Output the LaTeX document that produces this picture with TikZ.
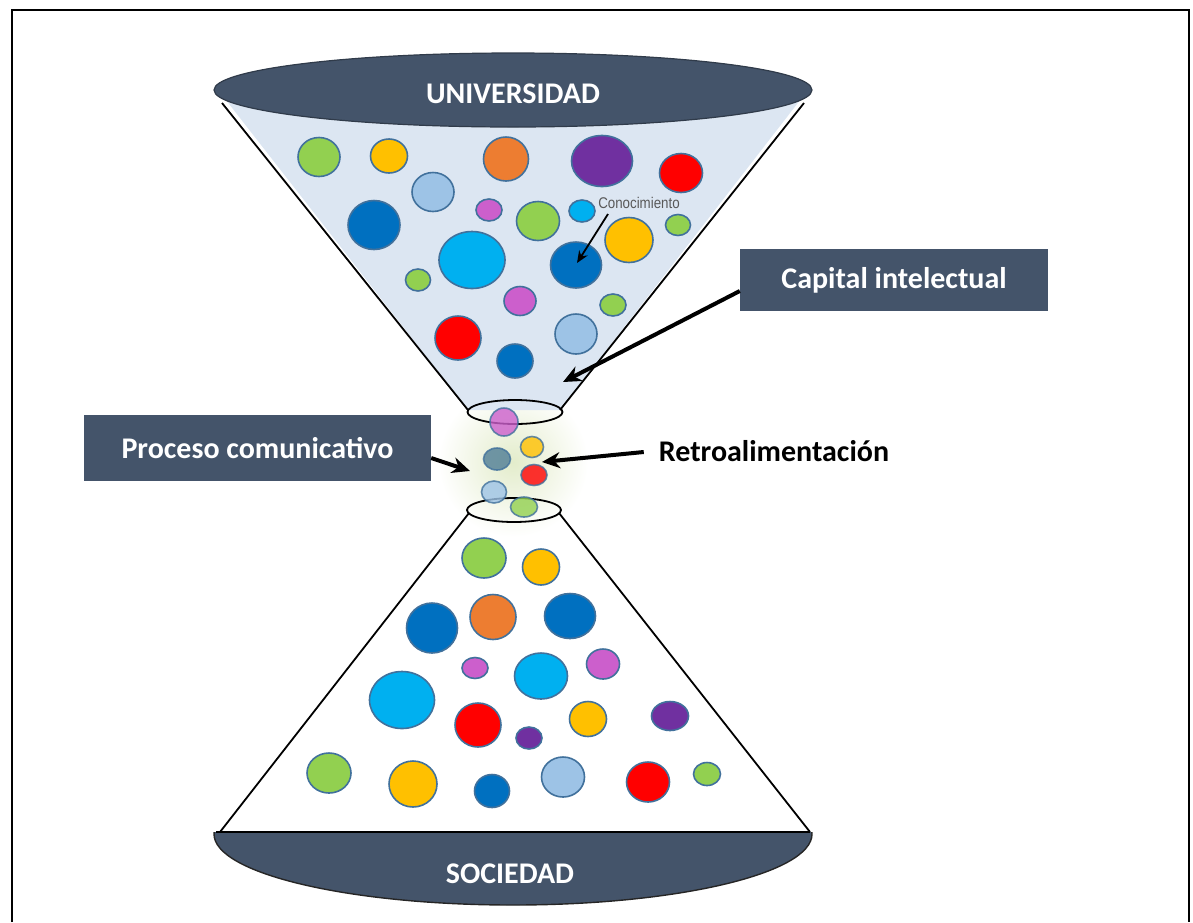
\documentclass[tikz,border=0pt]{standalone}
\usepackage{fontspec}
\setmainfont{Carlito}
\newfontfamily\labelfont{Liberation Sans}
\usetikzlibrary{arrows.meta,shapes.geometric}
\definecolor{slate}{HTML}{44546A}
\definecolor{conefill}{HTML}{DCE6F2}
\definecolor{ballline}{HTML}{41719C}
\definecolor{cgreen}{HTML}{92D050}
\definecolor{cyellow}{HTML}{FFC000}
\definecolor{corange}{HTML}{ED7D31}
\definecolor{cpurple}{HTML}{7030A0}
\definecolor{cred}{HTML}{FF0000}
\definecolor{clblue}{HTML}{9DC3E6}
\definecolor{cdblue}{HTML}{0070C0}
\definecolor{cmag}{HTML}{CC5FCC}
\definecolor{ccyan}{HTML}{00B0F0}
\definecolor{cteal}{HTML}{4F7D95}
\definecolor{glow}{HTML}{E3ECCB}
\definecolor{textgray}{HTML}{595959}
\begin{document}
\begin{tikzpicture}[x=1pt,y=-1pt,
  ball/.style={ellipse,draw=ballline,line width=1.6pt,inner sep=0pt},
  midball/.style={ball,opacity=0.8},
  darkbox/.style={rectangle,fill=slate,text=white,font=\fontsize{30}{34}\selectfont\bfseries,inner sep=0pt},
  arr/.style={line width=4pt,-{Stealth[length=18pt,width=16pt]}},
  thinarr/.style={line width=1.8pt,-{Stealth[length=12pt,width=10pt]}},
  conel/.style={line width=1.8pt}]
\useasboundingbox (0,0) rectangle (1193,922);
% frame
\draw[line width=2pt] (12,922) -- (12,10) -- (1189,10) -- (1189,922);

% glow behind the neck
\shade[inner color=glow,outer color=white] (513,462) circle (75pt);

% ---------- top cone ----------
\fill[conefill] (222,95) -- (804,95) -- (560,410) -- (468,410) -- cycle;
\draw[conel] (222,103) -- (468,410);
\draw[conel] (804,103) -- (560,410);
\node[ellipse,fill=slate,draw=slate!70!black,line width=1.2pt,minimum width=598pt,minimum height=74pt,inner sep=0pt] (univ) at (513,90) {};
\node[text=white,font=\fontsize{30}{34}\selectfont\bfseries] (univtext) at (513,94) {UNIVERSIDAD};

% top balls
\node[ball,fill=cgreen,minimum width=42pt,minimum height=39pt] (t1) at (319,157) {};
\node[ball,fill=cyellow,minimum width=37pt,minimum height=34pt] (t2) at (389,156) {};
\node[ball,fill=corange,minimum width=45pt,minimum height=44pt] (t3) at (506,159) {};
\node[ball,fill=cpurple,minimum width=61pt,minimum height=51pt] (t4) at (602,161) {};
\node[ball,fill=cred,minimum width=43pt,minimum height=39pt] (t5) at (681,173) {};
\node[ball,fill=clblue,minimum width=42pt,minimum height=39pt] (t6) at (433,192) {};
\node[ball,fill=cdblue,minimum width=52pt,minimum height=49pt] (t7) at (374,225) {};
\node[ball,fill=cmag,minimum width=26pt,minimum height=22pt] (t8) at (489,210) {};
\node[ball,fill=cgreen,minimum width=43pt,minimum height=39pt] (t9) at (538,221) {};
\node[ball,fill=ccyan,minimum width=26pt,minimum height=22pt] (t10) at (582,211) {};
\node[ball,fill=cyellow,minimum width=48pt,minimum height=45pt] (t11) at (629,240) {};
\node[ball,fill=cgreen,minimum width=25pt,minimum height=21pt] (t12) at (678,225) {};
\node[ball,fill=ccyan,minimum width=66pt,minimum height=57pt] (t13) at (472,260) {};
\node[ball,fill=cdblue,minimum width=51pt,minimum height=46pt] (t14) at (576,265) {};
\node[ball,fill=cgreen,minimum width=25pt,minimum height=22pt] (t15) at (418,280) {};
\node[ball,fill=cmag,minimum width=32pt,minimum height=29pt] (t16) at (520,301) {};
\node[ball,fill=cgreen,minimum width=26pt,minimum height=22pt] (t17) at (613,305) {};
\node[ball,fill=cred,minimum width=46pt,minimum height=44pt] (t18) at (458,338) {};
\node[ball,fill=clblue,minimum width=42pt,minimum height=40pt] (t19) at (576,334) {};
\node[ball,fill=cdblue,minimum width=36pt,minimum height=34pt] (t20) at (515,361) {};

% Conocimiento
\node[text=textgray,font=\labelfont\fontsize{15.5}{17}\selectfont,inner sep=0pt] (con) at (639,203) {\scalebox{0.86}[1]{Conocimiento}};
\draw[thinarr] ([xshift=-31pt,yshift=-11pt]con.center) -- ([xshift=1pt,yshift=2pt]t14.center);

% ---------- middle ----------
\node[ellipse,draw,line width=1.8pt,minimum width=95pt,minimum height=24pt,inner sep=0pt] (neck1) at (515,412) {};
\node[ellipse,draw,line width=1.8pt,minimum width=94pt,minimum height=24pt,inner sep=0pt] (neck2) at (514,510) {};
\node[midball,fill=cmag,minimum width=28pt,minimum height=28pt] (m1) at (504,422) {};
\node[midball,fill=cyellow,minimum width=23pt,minimum height=21pt] (m2) at (532,447) {};
\node[midball,fill=cteal,minimum width=27pt,minimum height=22pt] (m3) at (497,459) {};
\node[midball,fill=cred,minimum width=26pt,minimum height=21pt] (m4) at (534,475) {};
\node[midball,fill=clblue,minimum width=25pt,minimum height=22pt] (m5) at (494,492) {};
\node[midball,fill=cgreen,minimum width=27pt,minimum height=20pt] (m6) at (524,507) {};

% ---------- bottom cone ----------
\draw[conel] (469,513) -- (220,832);
\draw[conel] (559,513) -- (810,832);
\begin{scope}
  \clip (150,832) rectangle (880,920);
  \fill[slate] (513,834) ellipse (299pt and 71pt);
  \draw[line width=1.4pt,black!85] (513,834) ellipse (299pt and 71pt);
\end{scope}
\draw[line width=2pt] (216,832) -- (810,832);
\node[text=white,font=\fontsize{30}{34}\selectfont\bfseries] (soc) at (510,874) {SOCIEDAD};

% bottom balls
\node[ball,fill=cgreen,minimum width=44pt,minimum height=40pt] (b1) at (484,558) {};
\node[ball,fill=cyellow,minimum width=37pt,minimum height=36pt] (b2) at (541,567) {};
\node[ball,fill=cdblue,minimum width=51pt,minimum height=50pt] (b3) at (432,628) {};
\node[ball,fill=corange,minimum width=46pt,minimum height=45pt] (b4) at (493,617) {};
\node[ball,fill=cdblue,minimum width=51pt,minimum height=45pt] (b5) at (570,616) {};
\node[ball,fill=cmag,minimum width=26pt,minimum height=21pt] (b6) at (475,668) {};
\node[ball,fill=ccyan,minimum width=53pt,minimum height=46pt] (b7) at (541,676) {};
\node[ball,fill=cmag,minimum width=33pt,minimum height=30pt] (b8) at (603,664) {};
\node[ball,fill=ccyan,minimum width=65pt,minimum height=57pt] (b9) at (402,700) {};
\node[ball,fill=cred,minimum width=46pt,minimum height=44pt] (b10) at (478,725) {};
\node[ball,fill=cyellow,minimum width=37pt,minimum height=35pt] (b11) at (588,719) {};
\node[ball,fill=cpurple,minimum width=26pt,minimum height=22pt] (b12) at (529,738) {};
\node[ball,fill=cpurple,minimum width=37pt,minimum height=29pt] (b13) at (670,716) {};
\node[ball,fill=cgreen,minimum width=44pt,minimum height=40pt] (b14) at (329,773) {};
\node[ball,fill=cyellow,minimum width=48pt,minimum height=46pt] (b15) at (413,784) {};
\node[ball,fill=cdblue,minimum width=35pt,minimum height=33pt] (b16) at (492,791) {};
\node[ball,fill=clblue,minimum width=43pt,minimum height=40pt] (b17) at (563,777) {};
\node[ball,fill=cred,minimum width=43pt,minimum height=40pt] (b18) at (648,782) {};
\node[ball,fill=cgreen,minimum width=27pt,minimum height=23pt] (b19) at (707,774) {};

% ---------- labels and arrows ----------
\node[darkbox,minimum width=308pt,minimum height=62pt] (cap) at (894,280) {Capital intelectual};
\node[darkbox,minimum width=347pt,minimum height=66pt] (proc) at (257.5,448) {Proceso comunicativo};
\node[font=\fontsize{30}{34}\selectfont\bfseries,inner sep=0pt] (retro) at (774,451) {Retroalimentación};
\coordinate (capTip) at (563,382);
\coordinate (procTip) at (470,471);
\coordinate (retroTip) at (542,462);
\draw[arr] ([yshift=-11pt]cap.west) -- (capTip);
\draw[arr] ([yshift=-10pt]proc.east) -- (procTip);
\draw[arr] ([xshift=-15pt,yshift=-1pt]retro.west) -- (retroTip);
\end{tikzpicture}
\end{document}
